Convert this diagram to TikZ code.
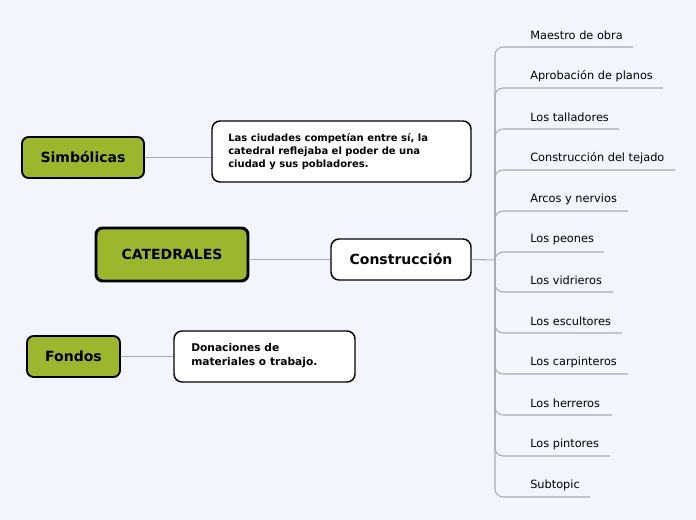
\documentclass[tikz,border=0pt]{standalone}
\usepackage{fontspec}
\setmainfont{DejaVu Sans}
\definecolor{olv}{RGB}{155,183,45}
\definecolor{bgc}{RGB}{242,245,254}
\definecolor{lnc}{RGB}{170,170,180}
\begin{document}
\begin{tikzpicture}[x=0.75pt,y=-0.75pt,
 topic/.style={draw=black,rounded corners=5pt,line width=1.4pt,fill=olv,font=\bfseries\fontsize{10.5}{12}\selectfont,inner sep=0pt},
 box/.style={draw=black,fill=white,rounded corners=6pt,line width=1.1pt,inner sep=0pt},
 conn/.style={draw=lnc,line width=0.8pt},
 sub/.style={anchor=west,font=\fontsize{8.5}{10}\selectfont,inner sep=0pt}]
\fill[bgc] (0,0) rectangle (696,520);
\node[topic,minimum width={122*0.75pt},minimum height={41*0.75pt}] (simb) at (83,157.5) {Simbólicas};
\node[topic,line width=2.2pt,minimum width={152*0.75pt},minimum height={53*0.75pt}] (cat) at (172,254.5) {CATEDRALES};
\node[topic,minimum width={93*0.75pt},minimum height={41*0.75pt}] (fon) at (73.5,356.5) {Fondos};
\node[box,minimum width={259*0.75pt},minimum height={61*0.75pt}] (t1) at (341.5,151.5) {};
\node[anchor=north west,align=left,font=\bfseries\fontsize{7.5}{10}\selectfont,inner sep=0pt] (t1txt) at (228,133) {Las ciudades competían entre sí, la\\catedral reflejaba el poder de una\\ciudad y sus pobladores.};
\node[box,minimum width={140*0.75pt},minimum height={41*0.75pt},font=\bfseries\fontsize{10.5}{12}\selectfont] (con) at (401,259.5) {Construcción};
\node[box,minimum width={181*0.75pt},minimum height={51*0.75pt}] (don) at (264.5,356.5) {};
\node[anchor=north west,align=left,font=\bfseries\fontsize{8}{10.5}\selectfont,inner sep=0pt] (dontxt) at (191,343) {Donaciones de\\materiales o trabajo.};
\draw[conn] (simb.east) -- (t1.west |- simb.east);
\draw[conn] (cat.east |- con.west) -- (con.west);
\draw[conn] (fon.east) -- (don.west |- fon.east);
\coordinate (hub) at (495,260);
\draw[conn] (con.east) -- (hub);
\foreach \n/\t/\y/\e in {a/Maestro de obra/47/633, b/Aprobación de planos/88/663, c/Los talladores/129/619, d/Construcción del tejado/170/675, e/Arcos y nervios/211/628, f/Los peones/252/604, g/Los vidrieros/292/613, h/Los escultores/333/622, i/Los carpinteros/374/628, j/Los herreros/415/612, k/Los pintores/456/610, l/Subtopic/497/590}{
  \node[sub] (\n) at (530,\y-12) {\t};
  \coordinate (\n e) at (\e,\y);
  \draw[conn,rounded corners=6pt] (hub) -- (495,\y) -- (\n e);
}
\end{tikzpicture}
\end{document}
